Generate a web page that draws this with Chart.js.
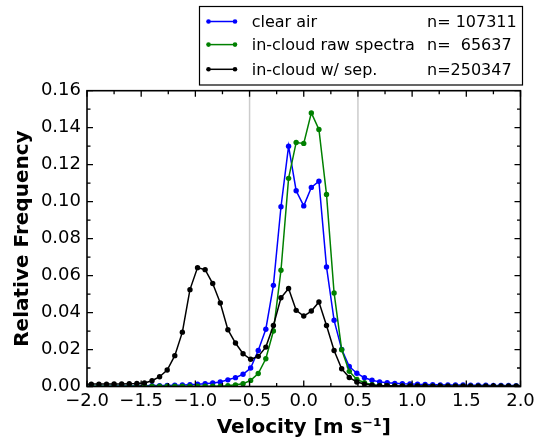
<!DOCTYPE html>
<html>
<head>
<meta charset="utf-8">
<script src="https://cdn.jsdelivr.net/npm/chart.js@4/dist/chart.umd.min.js"></script>
<style>
  html,body{margin:0;padding:0;background:#fff;}
  canvas{display:block;}
</style>
</head>
<body>
<canvas id="chart" width="534" height="441"></canvas>
<script>
// velocity bin centres [m s-1]
const velocity=[-2.03,-1.96,-1.89,-1.82,-1.75,-1.68,-1.61,-1.54,-1.47,-1.40,
  -1.33,-1.26,-1.19,-1.12,-1.05,-0.98,-0.91,-0.84,-0.77,-0.70,
  -0.63,-0.56,-0.49,-0.42,-0.35,-0.28,-0.21,-0.14,-0.07,0.00,
  0.07,0.14,0.21,0.28,0.35,0.42,0.49,0.56,0.63,0.70,
  0.77,0.84,0.91,0.98,1.05,1.12,1.19,1.26,1.33,1.40,
  1.47,1.54,1.61,1.68,1.75,1.82,1.89,1.96,2.03];

const clearAir=[0.0002,0.0002,0.0002,0.0002,0.0003,0.0003,0.0003,0.0004,0.0004,0.0005,
  0.0005,0.0006,0.0007,0.0008,0.0010,0.0012,0.0015,0.0019,0.0024,0.0036,
  0.0048,0.0066,0.0100,0.0195,0.0310,0.0547,0.0972,0.1300,0.1059,0.0977,
  0.1077,0.1110,0.0647,0.0358,0.0201,0.0108,0.0072,0.0047,0.0034,0.0025,
  0.0020,0.0017,0.0015,0.0014,0.0012,0.0011,0.0010,0.0009,0.0008,0.0008,
  0.0008,0.0007,0.0007,0.0007,0.0006,0.0006,0.0006,0.0005,0.0004];

const cloudRaw=[0.0001,0.0001,0.0001,0.0001,0.0001,0.0001,0.0001,0.0001,0.0001,0.0001,
  0.0001,0.0001,0.0001,0.0001,0.0001,0.0001,0.0001,0.0001,0.0002,0.0004,
  0.0009,0.0015,0.0033,0.0070,0.0150,0.0300,0.0629,0.1126,0.1320,0.1315,
  0.1480,0.1390,0.1039,0.0506,0.0199,0.0082,0.0038,0.0020,0.0010,0.0006,
  0.0004,0.0003,0.0002,0.0002,0.0002,0.0002,0.0001,0.0001,0.0001,0.0001,
  0.0001,0.0001,0.0001,0.0001,0.0001,0.0001,0.0001,0.0001,0.0001];

const cloudSep=[0.0012,0.0013,0.0013,0.0013,0.0014,0.0014,0.0015,0.0016,0.0019,0.0031,
  0.0053,0.0089,0.0167,0.0294,0.0524,0.0643,0.0632,0.0557,0.0452,0.0307,
  0.0235,0.0177,0.0147,0.0163,0.0213,0.0330,0.0480,0.0530,0.0412,0.0381,
  0.0408,0.0457,0.0330,0.0195,0.0096,0.0049,0.0024,0.0013,0.0007,0.0005,
  0.0004,0.0003,0.0003,0.0003,0.0003,0.0003,0.0002,0.0002,0.0002,0.0002,
  0.0002,0.0002,0.0002,0.0002,0.0002,0.0002,0.0002,0.0002,0.0002];

const seriesLabels=["clear air","in-cloud raw spectra","in-cloud w/ sep."];
const seriesCounts=["n= 107311","n=  65637","n=250347"];
const seriesColors=["#0000ff","#008000","#000000"];
const guideLines=[-0.5,0.5];

const FONT="'DejaVu Sans', sans-serif";
Chart.defaults.font.family=FONT;
Chart.defaults.color="#000";

function pts(vals){ return velocity.map((v,i)=>({x:v,y:vals[i]})); }
function minus(s){ return s.replace("-","\u2212"); }

const frame={
  id:"frame",
  beforeDatasetsDraw(chart){
    const {ctx,chartArea:a,scales:{x}}=chart;
    ctx.save();
    ctx.strokeStyle="#cccccc"; ctx.lineWidth=1.5;
    for(const g of guideLines){
      const px=x.getPixelForValue(g);
      ctx.beginPath(); ctx.moveTo(px,a.top); ctx.lineTo(px,a.bottom); ctx.stroke();
    }
    ctx.restore();
  },
  afterDatasetsDraw(chart){
    const {ctx,chartArea:a,scales:{x,y}}=chart;
    ctx.save();
    ctx.strokeStyle="#000"; ctx.lineWidth=1.3;
    ctx.beginPath();
    for(let v=x.min;v<=x.max+1e-9;v+=0.25){
      const px=x.getPixelForValue(v);
      const len=(Math.abs(v*2-Math.round(v*2))<1e-6)?6:3.5;
      ctx.moveTo(px,a.bottom); ctx.lineTo(px,a.bottom-len);
      ctx.moveTo(px,a.top); ctx.lineTo(px,a.top+len);
    }
    for(let i=0;i<=16;i++){
      const py=y.getPixelForValue(i*0.01);
      const len=(i%2===0)?6:3.5;
      ctx.moveTo(a.left,py); ctx.lineTo(a.left+len,py);
      ctx.moveTo(a.right,py); ctx.lineTo(a.right-len,py);
    }
    ctx.stroke();
    ctx.lineWidth=1.6;
    ctx.strokeRect(a.left,a.top,a.right-a.left,a.bottom-a.top);
    ctx.restore();
  },
  afterDraw(chart){
    const ctx=chart.ctx;
    ctx.save();
    ctx.fillStyle="#fff"; ctx.strokeStyle="#000"; ctx.lineWidth=1.2;
    ctx.fillRect(199.5,6.5,323,78.5);
    ctx.strokeRect(199.5,6.5,323,78.5);
    const base=[26.7,49.8,74.5];
    ctx.font="16px "+FONT; ctx.textBaseline="alphabetic"; ctx.textAlign="left";
    seriesLabels.forEach((lab,i)=>{
      const ly=base[i]-5.2;
      ctx.strokeStyle=seriesColors[i]; ctx.fillStyle=seriesColors[i]; ctx.lineWidth=1.5;
      ctx.beginPath(); ctx.moveTo(208.5,ly); ctx.lineTo(235,ly); ctx.stroke();
      for(const mx of [208.5,235]){ ctx.beginPath(); ctx.arc(mx,ly,2.3,0,Math.PI*2); ctx.fill(); }
      ctx.fillStyle="#000";
      ctx.fillText(lab,251.7,base[i]);
      ctx.fillText(seriesCounts[i],427,base[i]);
    });
    ctx.restore();
  }
};

new Chart(document.getElementById("chart"),{
  type:"line",
  data:{datasets:[
    {label:seriesLabels[0],data:pts(clearAir),borderColor:seriesColors[0],backgroundColor:seriesColors[0],order:2},
    {label:seriesLabels[1],data:pts(cloudRaw),borderColor:seriesColors[1],backgroundColor:seriesColors[1],order:1},
    {label:seriesLabels[2],data:pts(cloudSep),borderColor:seriesColors[2],backgroundColor:seriesColors[2],order:0}
  ]},
  options:{
    responsive:false,animation:false,devicePixelRatio:1,
    layout:{padding:{top:90.7,right:13.5,left:0,bottom:0}},
    elements:{
      line:{borderWidth:1.5,tension:0,fill:false},
      point:{radius:2.7,borderWidth:0,hoverRadius:2.7}
    },
    plugins:{legend:{display:false},tooltip:{enabled:false}},
    scales:{
      x:{
        type:"linear",min:-2,max:2,
        grid:{display:false,drawTicks:false},border:{display:false},
        ticks:{stepSize:0.5,padding:4,font:{size:18},color:"#000",
          callback:v=>minus(v.toFixed(1))},
        title:{display:true,text:"Velocity [m s\u207B\u00B9]",font:{size:20,weight:"bold"},color:"#000",padding:{top:0,bottom:1}},
        afterFit(s){ s.height=54.5; s.paddingLeft=0; s.paddingRight=0; }
      },
      y:{
        min:0,max:0.16,
        grid:{display:false,drawTicks:false},border:{display:false},
        ticks:{stepSize:0.02,padding:6,font:{size:18},color:"#000",
          callback:v=>v.toFixed(2)},
        title:{display:true,text:"Relative Frequency",font:{size:20,weight:"bold"},color:"#000",padding:{top:10.7,bottom:0}},
        afterFit(s){ s.width=87; s.paddingTop=0; s.paddingBottom=0; }
      }
    }
  },
  plugins:[frame]
});
</script>
</body>
</html>
